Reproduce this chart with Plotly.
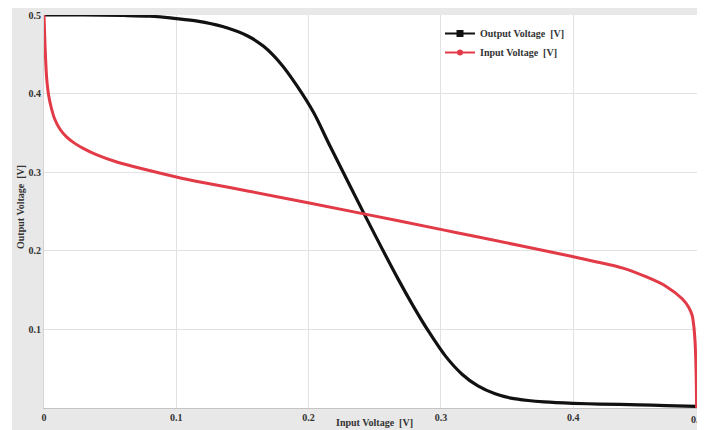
import plotly.graph_objects as go

# Output Voltage curve (black)
out_x = [0, 0.03, 0.06, 0.08, 0.10, 0.116, 0.135, 0.154, 0.166, 0.179, 0.191, 0.204,
         0.216, 0.242, 0.268, 0.279, 0.2905, 0.3035, 0.316, 0.328, 0.341, 0.353, 0.366,
         0.378, 0.40, 0.42, 0.45, 0.47, 0.4936]
out_y = [0.5, 0.5, 0.4994, 0.4985, 0.4955, 0.4923, 0.4853, 0.4733, 0.4601, 0.438, 0.4104,
         0.3753, 0.334, 0.247, 0.163, 0.130, 0.098, 0.066, 0.043, 0.028, 0.018, 0.0125,
         0.0095, 0.0078, 0.006, 0.005, 0.004, 0.003, 0.002]

# Input Voltage curve (red)
in_x = [0, 0.0008, 0.002, 0.0035, 0.0055, 0.008, 0.012, 0.017, 0.023, 0.030, 0.040,
        0.055, 0.075, 0.100, 0.120, 0.1538, 0.2418, 0.3035, 0.3255, 0.3985, 0.4376,
        0.455, 0.470, 0.4824, 0.4874, 0.4899, 0.4912, 0.4921, 0.4927, 0.4931, 0.4933]
in_y = [0.5, 0.46, 0.42, 0.398, 0.382, 0.368, 0.355, 0.345, 0.337, 0.330, 0.322,
        0.313, 0.304, 0.294, 0.287, 0.2762, 0.247, 0.226, 0.2185, 0.193, 0.178,
        0.167, 0.155, 0.139, 0.128, 0.118, 0.104, 0.085, 0.060, 0.030, 0.0]

x_ticks = [0, 0.1, 0.2, 0.3, 0.4]
x_ticktext = ["0", "0.1", "0.2", "0.3", "0.4"]
y_ticks = [0.1, 0.2, 0.3, 0.4, 0.5]
y_ticktext = ["0.1", "0.2", "0.3", "0.4", "0.5"]
last_x_label = "0.5"

names = ["Output Voltage  [V]", "Input Voltage  [V]"]
BLACK = "#111111"
RED = "#e23a47"
FONT = dict(family="Liberation Serif", size=10, color="#333333", weight="bold")

fig = go.Figure()
fig.add_trace(go.Scatter(x=out_x, y=out_y, mode="lines", showlegend=False,
                         line=dict(color=BLACK, width=3.2, shape="spline", smoothing=0.8)))
fig.add_trace(go.Scatter(x=in_x, y=in_y, mode="lines", showlegend=False,
                         line=dict(color=RED, width=3, shape="spline", smoothing=0.8)))
# legend entries
fig.add_trace(go.Scatter(x=[None], y=[None], mode="lines+markers", name=names[0],
                         line=dict(color=BLACK, width=2),
                         marker=dict(symbol="square", size=7, color=BLACK)))
fig.add_trace(go.Scatter(x=[None], y=[None], mode="lines+markers", name=names[1],
                         line=dict(color=RED, width=2),
                         marker=dict(symbol="circle", size=6, color=RED)))

# the page body adds an 8 px offset
W, H = 689, 422
L, R, T, B = 36, 0, 7, 22
pw, ph = W - L - R, H - T - B

def px_x(p):
    return (p - L) / pw

def px_y(p):
    return (H - B - p) / ph

fig.update_layout(
    width=W, height=H,
    margin=dict(l=L, r=R, t=T, b=B, pad=0),
    paper_bgcolor="#e8e8e8",
    plot_bgcolor="white",
    font=FONT,
    xaxis=dict(range=[0, 0.4936], tickvals=x_ticks, ticktext=x_ticktext,
               showgrid=True, gridcolor="#e2e2e2", gridwidth=1,
               zeroline=False, showline=True, linecolor="#c4c4c4", linewidth=1,
               ticks="", tickfont=FONT),
    yaxis=dict(range=[0, 0.5], tickvals=y_ticks, ticktext=y_ticktext,
               showgrid=True, gridcolor="#e2e2e2", gridwidth=1,
               zeroline=False, showline=True, linecolor="#d4d4d4", linewidth=1,
               ticks="", tickfont=FONT),
    legend=dict(x=px_x(432), y=px_y(11), xanchor="left", yanchor="top",
                bgcolor="rgba(0,0,0,0)", font=FONT, tracegroupgap=0),
    shapes=[
        dict(type="rect", xref="paper", yref="paper", layer="above",
             x0=px_x(-2), x1=px_x(4), y0=px_y(H + 2), y1=px_y(-2),
             fillcolor="white", line=dict(width=0)),
    ],
    annotations=[
        dict(text="Input Voltage  [V]", xref="paper", yref="paper",
             x=px_x(366), y=px_y(414), xanchor="center", yanchor="middle",
             showarrow=False, font=FONT),
        dict(text="Output Voltage  [V]", xref="paper", yref="paper",
             x=px_x(12), y=px_y(199), xanchor="center", yanchor="middle",
             textangle=-90, showarrow=False, font=FONT),
        dict(text=last_x_label, xref="paper", yref="paper",
             x=px_x(689), y=px_y(411), xanchor="center", yanchor="middle",
             showarrow=False, font=FONT),
    ],
)

fig.write_html("out.html")
